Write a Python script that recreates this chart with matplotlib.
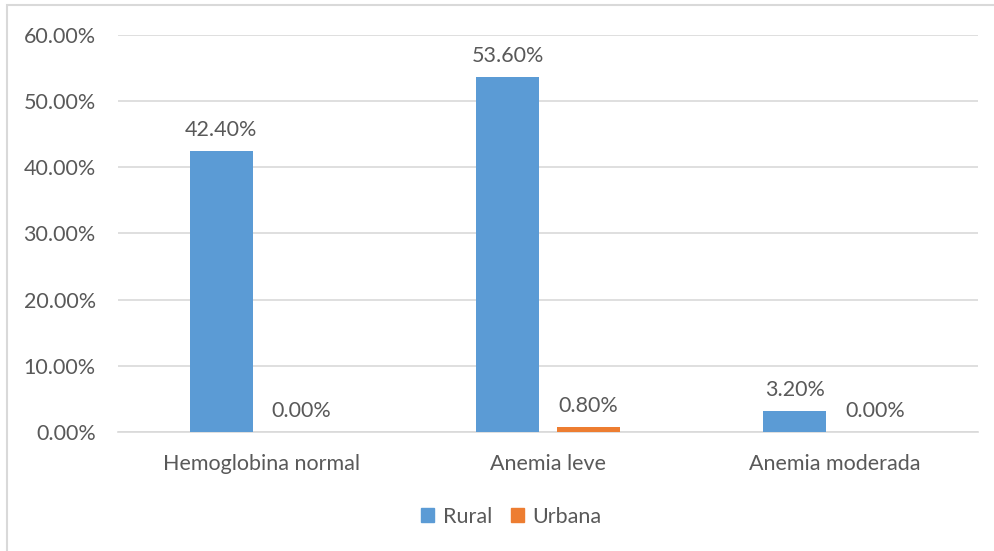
import matplotlib
matplotlib.use('Agg')
import matplotlib.pyplot as plt
import matplotlib.patches as mpatches
import numpy as np

plt.rcParams['font.family'] = ['Lato', 'DejaVu Sans']

categories = ["Hemoglobina normal", "Anemia leve", "Anemia moderada"]
rural = [0.424, 0.536, 0.032]
urbana = [0.0, 0.008, 0.0]
series_names = ["Rural", "Urbana"]

BLUE = "#5B9BD5"
ORANGE = "#ED7D31"
GRID = "#D9D9D9"
TEXT = "#595959"
FS = 15.5

fig = plt.figure(figsize=(9.95, 5.51), dpi=100, facecolor='white')
ax = fig.add_axes([0.1186, 0.216, 0.8644, 0.7205])

x = np.arange(len(categories))
width = 0.22
offset = 0.14

bars_r = ax.bar(x - offset, rural, width, color=BLUE, label=series_names[0], zorder=3)
bars_u = ax.bar(x + offset, urbana, width, color=ORANGE, label=series_names[1], zorder=3)

# etiquetas de valor sobre cada barra
for bars, vals in ((bars_r, rural), (bars_u, urbana)):
    for b, v in zip(bars, vals):
        ax.annotate(f"{v * 100:.2f}%", (b.get_x() + b.get_width() / 2, v),
                    xytext=(0, 8), textcoords='offset points',
                    ha='center', va='bottom', fontsize=FS, color=TEXT)

ax.set_xlim(-0.5, len(categories) - 0.5)
ax.set_ylim(0, 0.6)
ax.set_yticks(np.arange(0, 0.61, 0.1))
ax.set_yticklabels([f"{t * 100:.2f}%" for t in np.arange(0, 0.61, 0.1)])
ax.set_xticks(x)
ax.set_xticklabels(categories)
ax.tick_params(axis='both', length=0, labelsize=FS, labelcolor=TEXT)
ax.tick_params(axis='y', pad=16)
ax.tick_params(axis='x', pad=16)

ax.grid(axis='y', color=GRID, linewidth=1.2, zorder=0)
for name, spine in ax.spines.items():
    spine.set_visible(name == 'bottom')
ax.spines['bottom'].set_color(GRID)
ax.spines['bottom'].set_linewidth(1.2)

handles = [mpatches.Patch(color=BLUE, label=series_names[0]),
           mpatches.Patch(color=ORANGE, label=series_names[1])]
leg = fig.legend(handles=handles, loc='center', bbox_to_anchor=(0.514, 0.062),
                 ncol=2, frameon=False, fontsize=FS, handlelength=0.6,
                 handleheight=0.6, handletextpad=0.4, columnspacing=0.9)
for t in leg.get_texts():
    t.set_color(TEXT)

# marco gris del área del gráfico
frame = mpatches.Rectangle((7 / 995, -0.1), 1.2, 1 - 4.5 / 551 + 0.1,
                           transform=fig.transFigure, fill=False,
                           edgecolor=GRID, linewidth=1.5)
fig.add_artist(frame)

fig.savefig("out.png", dpi=100)
